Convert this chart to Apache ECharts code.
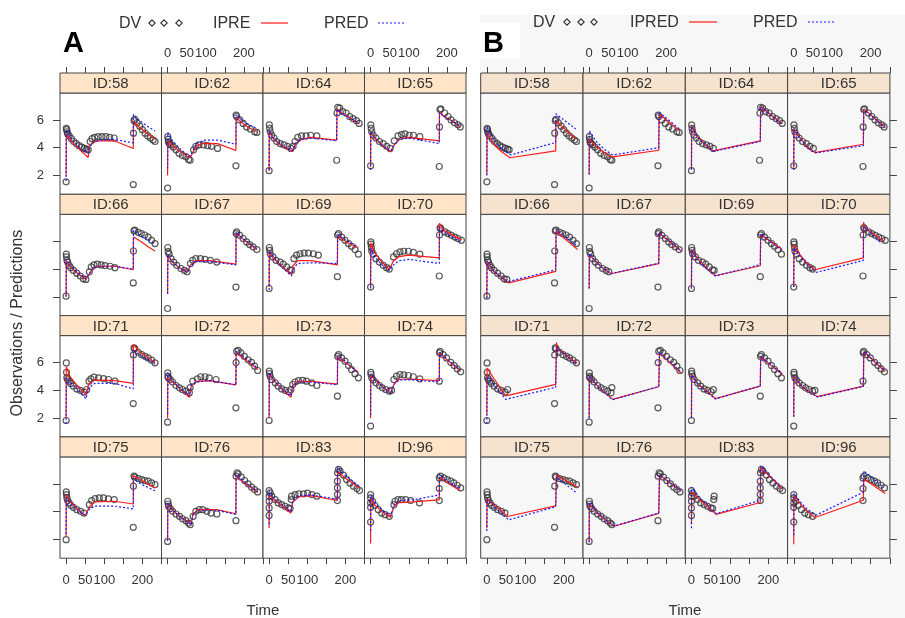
<!DOCTYPE html>
<html><head><meta charset="utf-8">
<script src="https://cdn.jsdelivr.net/npm/echarts@6/dist/echarts.min.js"></script>
<style>html,body{margin:0;padding:0;background:#fff}#c{width:905px;height:618px}</style>
</head><body><div id="c"></div>
<script>
// ---------------- DATA ----------------
const IDS = ['58','62','64','65','66','67','69','70','71','72','73','74','75','76','83','96'];
const X_TICKS = [0,50,100,150,200,250];
const X_LABELS = [0,50,100,200];
const Y_TICKS = [2,4,6];

// Observations (DV) : [time, value]
const dv58 = [[0,1.55],[0.5,5.4],[1.5,5.3],[2.5,5.15],[4,5.0],[8,4.85],[14,4.65],[20,4.45],[27,4.3],[34,4.15],[41,4.05],[48,3.95],[54,3.9],[58,3.85],[63,4.45],[68,4.65],[75,4.75],[84,4.8],[94,4.8],[104,4.8],[114,4.75],[126,4.7],[176,1.35],[176.5,5.05],[178,5.95],[180,6.05],[186,5.8],[193,5.55],[200,5.3],[207,5.05],[214,4.85],[221,4.7],[228,4.55],[233,4.45]];
const dv62 = [[0,1.1],[0.5,4.8],[1.5,4.6],[2.5,4.4],[5,4.3],[9,4.2],[15,4.05],[22,3.85],[30,3.6],[39,3.45],[48,3.35],[55,3.15],[59,3.1],[68,3.85],[74,4.1],[82,4.2],[94,4.2],[105,4.15],[115,4.1],[131,3.95],[179,2.7],[179.5,6.35],[181,6.25],[189,6.0],[198,5.75],[207,5.5],[217,5.35],[228,5.15],[234,5.1]];
const dv64 = [[0,2.35],[0.5,5.65],[1.5,5.4],[3,5.15],[7,4.9],[13,4.7],[20,4.45],[29,4.3],[39,4.2],[48,4.1],[57,3.95],[63,4.1],[68,4.45],[75,4.75],[85,4.85],[97,4.85],[109,4.9],[125,4.85],[177,3.1],[178,6.5],[180,6.9],[185,6.85],[193,6.6],[202,6.5],[211,6.25],[220,6.1],[229,5.95],[236,5.75]];
const dv65 = [[0,2.7],[0.5,5.65],[1.5,5.4],[3,5.15],[7,4.9],[14,4.7],[23,4.45],[33,4.3],[42,4.1],[51,3.95],[62,4.5],[72,4.85],[81,4.95],[90,5.0],[101,4.9],[112,4.9],[129,4.8],[180,2.65],[180.5,5.5],[182,6.75],[184,6.8],[194,6.5],[203,6.25],[211,6.0],[220,5.8],[229,5.65],[235,5.5]];
const dv66 = [[0,2.05],[0.5,5.07],[1,4.88],[2,4.63],[4,4.5],[8,4.27],[12,4.1],[19,3.9],[28,3.7],[37,3.5],[45,3.3],[52,3.25],[61,3.8],[66,4.15],[73,4.3],[82,4.35],[92,4.3],[102,4.25],[115,4.2],[128,4.1],[176,3.0],[176.5,5.3],[178,6.75],[180,6.8],[189,6.65],[197,6.55],[206,6.45],[215,6.3],[224,6.07],[233,5.83]];
const dv67 = [[0,1.16],[0.5,5.55],[1.5,5.25],[4,5.07],[9,4.75],[16,4.5],[24,4.27],[35,4.04],[44,3.9],[51,3.8],[60,4.4],[66,4.63],[74,4.75],[86,4.75],[98,4.7],[112,4.63],[129,4.5],[179,2.7],[179.5,6.55],[181,6.67],[189,6.43],[198,6.2],[207,5.95],[215,5.76],[224,5.6],[234,5.4]];
const dv69 = [[0,2.6],[0.5,5.55],[1.5,5.35],[3,5.1],[10,4.87],[18,4.63],[29,4.5],[37,4.35],[46,4.15],[55,3.95],[59,3.9],[65,4.75],[72,5.0],[81,5.1],[92,5.15],[103,5.15],[116,5.1],[129,5.0],[179,3.45],[179.5,6.45],[182,6.55],[190,6.3],[199,6.07],[208,5.83],[216,5.64],[225,5.4],[234,5.07]];
const dv70 = [[0,2.7],[0.5,5.95],[1,5.8],[2,5.55],[3,5.3],[7,5.07],[14,4.75],[23,4.5],[33,4.27],[42,4.1],[49,4.0],[60,4.87],[68,5.1],[77,5.23],[87,5.28],[99,5.28],[112,5.2],[129,5.07],[180,3.5],[180.5,6.45],[182,6.98],[184,6.9],[195,6.67],[203,6.55],[212,6.43],[221,6.3],[229,6.2],[238,6.07]];
const dv71 = [[0,1.83],[0.5,5.97],[1,5.3],[2,4.9],[4,4.78],[8,4.66],[12,4.5],[19,4.3],[28,4.1],[37,4.0],[47,3.87],[54,4.06],[60,4.66],[65,4.83],[73,4.95],[85,4.9],[98,4.85],[111,4.78],[128,4.66],[176,3.05],[176.5,6.55],[178,7.05],[180,7.0],[189,6.74],[198,6.57],[207,6.45],[215,6.33],[224,6.17],[233,5.98]];
const dv72 = [[0,1.71],[0.5,5.26],[1,5.0],[2,4.9],[7,4.78],[13,4.6],[22,4.35],[31,4.18],[39,4.06],[48,3.94],[57,3.82],[59,4.2],[66,4.66],[78,4.83],[87,4.98],[98,4.98],[109,4.9],[127,4.78],[179,2.74],[179.5,6.0],[181,6.8],[185,6.88],[192,6.7],[201,6.45],[211,6.2],[220,6.02],[228,5.74],[236,5.43]];
const dv73 = [[0,1.83],[0.5,5.38],[1,5.2],[3,5.0],[7,4.78],[16,4.54],[24,4.3],[33,4.1],[42,4.0],[51,3.9],[57,4.05],[62,4.42],[68,4.6],[77,4.7],[88,4.72],[98,4.66],[112,4.54],[125,4.35],[179,3.58],[179.5,6.45],[182,6.57],[190,6.33],[199,6.1],[208,5.78],[216,5.5],[225,5.2],[234,4.9]];
const dv74 = [[0,1.43],[0.5,5.3],[1,5.14],[3,4.9],[7,4.74],[14,4.54],[23,4.35],[31,4.18],[40,4.06],[49,3.94],[55,4.0],[61,4.78],[68,5.02],[77,5.14],[87,5.12],[99,5.07],[112,4.98],[129,4.83],[180,4.66],[180.5,6.7],[182,6.8],[190,6.57],[199,6.33],[210,6.02],[219,5.78],[227,5.55],[236,5.33]];
const dv75 = [[0,1.98],[0.5,5.42],[1,5.23],[2,4.99],[4,4.8],[8,4.63],[12,4.46],[19,4.31],[28,4.14],[38,4.02],[47,3.9],[61,4.5],[67,4.8],[76,4.94],[87,4.99],[98,4.99],[111,4.92],[126,4.87],[176,2.87],[176.5,5.83],[178,6.55],[180,6.48],[189,6.38],[198,6.31],[206,6.24],[215,6.19],[224,6.07],[233,5.95]];
const dv76 = [[0,1.86],[0.5,4.75],[1.5,4.55],[2.5,4.39],[7,4.22],[13,4.02],[22,3.83],[31,3.66],[39,3.49],[48,3.35],[55,3.18],[59,3.06],[67,3.66],[74,4.02],[83,4.14],[92,4.14],[103,4.02],[114,3.9],[129,3.83],[179,3.35],[179.5,6.55],[182,6.8],[185,6.72],[193,6.48],[202,6.24],[211,6.0],[220,5.76],[228,5.59],[236,5.42]];
const dv83 = [[0,3.73],[0,4.27],[0,4.75],[0,5.11],[0,5.52],[3,5.35],[7,5.11],[16,4.87],[24,4.63],[33,4.51],[42,4.39],[51,4.27],[55,4.22],[58,4.87],[59,5.11],[68,5.23],[78,5.28],[90,5.28],[101,5.33],[112,5.23],[125,5.11],[179,4.8],[179,5.23],[179,5.71],[179,6.19],[179.5,6.8],[182,7.04],[186,6.92],[195,6.63],[203,6.31],[212,6.07],[221,5.83],[230,5.66],[237,5.52]];
const dv96 = [[0,3.25],[0,4.31],[0,4.63],[0,4.99],[0,5.23],[5,4.75],[11,4.46],[20,4.14],[29,3.9],[38,3.78],[49,3.66],[61,4.5],[64,4.75],[72,4.87],[81,4.87],[92,4.87],[105,4.8],[128,4.63],[180,4.8],[180,5.66],[180,6.43],[183,6.55],[192,6.43],[201,6.31],[210,6.19],[218,6.07],[227,5.9],[236,5.71]];

// Panel A : individual (IPRE) and population (PRED) predictions
const ipA58 = [[0,2.0],[0.5,5.0],[5,4.8],[20,4.3],[40,3.75],[58,3.3],[60,4.1],[70,4.4],[85,4.5],[126,4.5],[176,3.95],[176.5,5.9],[186,5.6],[210,5.1],[233,4.65]];
const prA58 = [[0,1.6],[0.5,5.3],[5,5.0],[20,4.45],[40,3.9],[58,3.6],[60,4.0],[70,4.35],[90,4.55],[126,4.6],[176,4.35],[176.5,6.4],[186,6.1],[210,5.6],[233,5.2]];
const ipA62 = [[0,2.0],[0.5,4.5],[10,4.2],[30,3.8],[50,3.4],[60,3.3],[65,3.6],[75,4.1],[90,4.3],[131,4.3],[179,3.8],[179.5,6.2],[190,5.9],[210,5.5],[234,5.15]];
const prA62 = [[0,2.5],[0.5,5.1],[10,4.6],[30,4.0],[50,3.5],[60,3.4],[65,3.7],[75,4.3],[95,4.55],[131,4.55],[179,4.25],[179.5,6.4],[190,6.1],[210,5.7],[234,5.4]];
const ipA64 = [[0,2.3],[0.5,5.2],[10,4.7],[30,4.2],[50,3.9],[62,3.75],[70,4.3],[85,4.6],[110,4.75],[177,4.55],[178,6.8],[190,6.5],[215,6.1],[236,5.7]];
const prA64 = [[0,2.4],[0.5,5.3],[10,4.75],[30,4.25],[50,3.9],[62,3.8],[70,4.35],[85,4.6],[110,4.7],[177,4.5],[178,6.75],[190,6.5],[215,6.1],[236,5.75]];
const ipA65 = [[0,2.6],[0.5,5.1],[10,4.7],[30,4.2],[52,3.7],[62,4.2],[75,4.6],[100,4.75],[180,4.5],[180.5,6.6],[190,6.3],[215,5.9],[235,5.5]];
const prA65 = [[0,2.4],[0.5,5.2],[10,4.75],[30,4.2],[52,3.75],[62,4.2],[75,4.6],[100,4.7],[180,4.3],[180.5,6.55],[190,6.3],[215,5.9],[235,5.55]];
const ipA66 = [[0,2.0],[0.5,4.6],[10,4.2],[30,3.7],[52,3.25],[60,3.6],[70,4.0],[85,4.2],[128,4.2],[176,3.95],[176.5,6.3],[195,6.0],[215,5.6],[233,5.3]];
const prA66 = [[0,2.0],[0.5,4.7],[10,4.25],[30,3.75],[52,3.3],[60,3.65],[70,4.05],[85,4.2],[128,4.2],[176,4.0],[176.5,6.8],[200,6.3],[233,5.8]];
const ipA67 = [[0,2.2],[0.5,5.0],[10,4.6],[30,4.1],[52,3.8],[60,4.3],[75,4.6],[110,4.6],[179,4.35],[179.5,6.6],[200,6.1],[234,5.4]];
const prA67 = [[0,2.2],[0.5,5.05],[10,4.6],[30,4.1],[52,3.75],[60,4.25],[75,4.55],[110,4.55],[179,4.3],[179.5,6.65],[200,6.15],[234,5.45]];
const ipA69 = [[0,2.7],[0.5,5.3],[10,4.8],[30,4.3],[59,3.6],[62,4.2],[75,4.6],[110,4.6],[179,4.3],[179.5,6.4],[200,6.0],[234,5.5]];
const prA69 = [[0,2.5],[0.5,5.3],[30,4.2],[59,3.5],[62,4.0],[75,4.4],[110,4.45],[179,4.4],[179.5,6.5],[200,6.1],[234,5.6]];
const ipA70 = [[0,2.7],[0.5,5.9],[10,5.2],[30,4.5],[49,3.95],[60,4.6],[75,4.9],[100,5.0],[180,4.8],[180.5,7.3],[190,6.8],[238,6.1]];
const prA70 = [[0,2.6],[0.5,5.5],[10,4.9],[30,4.3],[49,3.9],[60,4.3],[75,4.6],[100,4.7],[180,4.4],[180.5,7.0],[190,6.7],[238,5.9]];
const ipA71 = [[0,2.0],[0.5,5.7],[10,5.0],[30,4.3],[52,3.7],[60,4.5],[75,4.75],[128,4.7],[176,4.5],[176.5,7.3],[195,6.7],[233,6.0]];
const prA71 = [[0,1.6],[0.5,4.9],[10,4.6],[30,4.1],[52,3.4],[60,4.2],[75,4.5],[128,4.5],[176,4.1],[176.5,6.9],[195,6.5],[233,5.9]];
const ipA72 = [[0,2.0],[0.5,5.0],[10,4.7],[30,4.2],[57,3.5],[62,4.3],[75,4.65],[110,4.7],[179,4.4],[179.5,6.7],[200,6.3],[236,5.5]];
const prA72 = [[0,2.3],[0.5,5.3],[10,4.8],[30,4.2],[57,3.6],[62,4.4],[75,4.6],[110,4.7],[179,4.4],[179.5,6.8],[200,6.4],[236,5.6]];
const ipA73 = [[0,2.0],[0.5,5.2],[10,4.8],[30,4.2],[57,3.5],[62,4.35],[75,4.65],[110,4.65],[179,4.45],[179.5,6.4],[200,6.0],[234,5.3]];
const prA73 = [[0,2.2],[0.5,5.3],[10,4.8],[30,4.2],[57,3.6],[62,4.3],[75,4.6],[110,4.6],[179,4.4],[179.5,6.5],[200,6.1],[234,5.2]];
const ipA74 = [[0,2.0],[0.5,5.1],[10,4.8],[30,4.3],[52,3.8],[62,4.5],[75,4.8],[110,4.8],[180,4.7],[180.5,6.7],[200,6.2],[236,5.4]];
const prA74 = [[0,2.2],[0.5,5.2],[10,4.8],[30,4.3],[52,3.75],[62,4.45],[75,4.75],[110,4.75],[180,4.6],[180.5,6.75],[200,6.25],[236,5.45]];
const ipA75 = [[0,2.2],[0.5,5.2],[10,4.7],[30,4.2],[50,3.7],[62,4.4],[75,4.7],[126,4.75],[176,4.55],[176.5,6.6],[195,6.3],[233,5.7]];
const prA75 = [[0,2.4],[0.5,5.0],[10,4.6],[30,4.1],[50,3.75],[62,4.2],[75,4.4],[126,4.4],[176,4.2],[176.5,6.4],[195,6.0],[233,5.5]];
const ipA76 = [[0,1.9],[0.5,4.6],[10,4.2],[30,3.7],[62,3.1],[66,3.8],[80,4.15],[129,4.15],[179,3.85],[179.5,6.6],[200,6.1],[236,5.4]];
const prA76 = [[0,1.9],[0.5,4.65],[10,4.2],[30,3.7],[62,3.05],[66,3.75],[80,4.1],[129,4.1],[179,3.8],[179.5,6.65],[200,6.15],[236,5.45]];
const ipA83 = [[0,2.8],[0.5,5.2],[10,4.9],[30,4.5],[57,3.9],[62,4.7],[80,5.1],[110,5.15],[179,4.8],[179.5,6.9],[200,6.4],[237,5.7]];
const prA83 = [[0,3.1],[0.5,5.5],[10,5.0],[30,4.6],[57,4.0],[62,4.8],[80,5.15],[110,5.2],[179,4.9],[179.5,7.2],[200,6.6],[237,5.8]];
const ipA96 = [[0,1.7],[0.5,5.0],[10,4.5],[30,4.0],[52,3.6],[62,4.4],[75,4.65],[110,4.7],[180,4.85],[180.5,6.5],[200,6.1],[236,5.5]];
const prA96 = [[0,2.6],[0.5,5.2],[10,4.7],[30,4.1],[52,3.7],[62,4.5],[75,4.8],[110,4.85],[180,5.2],[180.5,6.7],[200,6.2],[236,5.65]];

// Panel B : IPRED and PRED
const ipB58 = [[0,2.07],[0.5,5.1],[18,4.25],[36,3.77],[60,3.28],[179,3.77],[179.5,6.0],[184,5.83],[231,4.65]];
const prB58 = [[0,2.0],[0.5,5.47],[18,4.62],[36,4.0],[62,3.48],[179,4.38],[179.5,6.44],[231,5.35]];
const ipB62 = [[0,2.07],[0.5,4.62],[17,4.13],[39,3.65],[57,3.33],[181,3.82],[182,6.44],[235,5.22]];
const prB62 = [[0,2.07],[0.5,5.22],[17,4.5],[39,3.9],[61,3.48],[181,4.0],[182,6.56],[235,5.35]];
const ipB64 = [[0,2.44],[0.5,5.59],[14,4.86],[31,4.38],[57,3.77],[179,4.5],[180,6.97],[236,5.71]];
const prB64 = [[0,2.44],[0.5,5.55],[14,4.83],[31,4.35],[57,3.74],[179,4.45],[180,6.95],[236,5.68]];
const ipB65 = [[0,2.56],[0.5,5.35],[16,4.74],[33,4.13],[55,3.65],[181,4.25],[182,6.8],[238,5.47]];
const prB65 = [[0,2.4],[0.5,5.3],[16,4.7],[33,4.1],[55,3.62],[181,4.15],[182,6.75],[238,5.45]];
const ipB66 = [[0,1.9],[0.5,4.55],[18,3.83],[40,3.35],[57,3.0],[179,3.83],[180,6.72],[236,5.4]];
const prB66 = [[0,1.9],[0.5,4.6],[18,3.85],[40,3.35],[57,3.1],[179,3.95],[180,6.84],[236,5.64]];
const ipB67 = [[0,2.6],[0.5,5.04],[17,4.55],[35,4.07],[57,3.66],[181,4.39],[182,6.6],[240,5.28]];
const prB67 = [[0,2.6],[0.5,5.1],[17,4.55],[35,4.07],[57,3.68],[181,4.42],[182,6.62],[240,5.3]];
const ipB69 = [[0,2.6],[0.5,5.4],[18,4.67],[40,4.07],[62,3.52],[179,4.24],[180,6.48],[236,5.4]];
const prB69 = [[0,2.6],[0.5,5.35],[18,4.6],[40,4.0],[62,3.5],[179,4.32],[180,6.55],[236,5.3]];
const ipB70 = [[0,2.7],[0.5,5.76],[16,5.04],[33,4.43],[55,3.95],[181,4.8],[181.5,7.37],[185,6.96],[234,6.0]];
const prB70 = [[0,2.7],[0.5,5.52],[20,4.8],[37,4.24],[59,3.76],[181,4.63],[181.5,7.08],[229,5.83]];
const ipB71 = [[0,2.2],[0.5,5.6],[18,4.87],[49,3.6],[179,4.43],[181,7.45],[184,6.95],[235,5.95]];
const prB71 = [[0,1.6],[0.5,5.0],[49,3.35],[179,4.22],[181,7.1],[235,5.83]];
const ipB72 = [[0,2.0],[0.5,5.0],[22,4.3],[39,3.87],[61,3.35],[181,4.26],[183,6.7],[239,5.25]];
const prB72 = [[0,2.0],[0.5,5.05],[22,4.3],[39,3.85],[61,3.33],[181,4.28],[183,6.75],[239,5.3]];
const ipB73 = [[0,2.0],[0.5,5.13],[18,4.42],[40,3.95],[62,3.41],[179,4.3],[180,6.42],[236,5.13]];
const prB73 = [[0,2.0],[0.5,5.1],[18,4.4],[40,3.9],[62,3.38],[179,4.32],[180,6.45],[236,5.2]];
const ipB74 = [[0,2.1],[0.5,5.0],[20,4.3],[37,3.95],[61,3.55],[181,4.3],[182,6.78],[238,5.36]];
const prB74 = [[0,2.1],[0.5,5.05],[20,4.32],[37,3.95],[61,3.52],[181,4.28],[182,6.8],[238,5.4]];
const ipB75 = [[0,2.8],[0.5,4.94],[18,4.47],[36,4.12],[53,3.65],[179,4.42],[181,6.64],[236,5.76]];
const prB75 = [[0,2.6],[0.5,4.94],[18,4.35],[57,3.41],[179,4.35],[181,6.5],[231,5.4]];
const ipB76 = [[0,1.8],[0.5,4.6],[22,3.9],[43,3.4],[65,2.95],[181,3.88],[183,6.64],[239,5.46]];
const prB76 = [[0,1.8],[0.5,4.65],[22,3.92],[43,3.42],[65,2.97],[181,3.9],[183,6.66],[239,5.5]];
const ipB83 = [[0,3.1],[0.5,5.41],[23,4.82],[44,4.35],[64,3.8],[179,4.66],[180,7.18],[236,5.65]];
const prB83 = [[0,2.8],[0.5,5.76],[23,4.95],[44,4.45],[64,3.85],[179,4.82],[180,7.3],[231,5.76]];
const ipB96 = [[0,1.65],[0.5,5.18],[20,4.47],[37,4.0],[55,3.58],[181,4.82],[182,6.35],[238,5.3]];
const prB96 = [[0,2.3],[0.5,5.3],[20,4.6],[37,4.12],[59,3.76],[181,5.4],[182,6.94],[229,5.83]];

const DV  = [dv58,dv62,dv64,dv65,dv66,dv67,dv69,dv70,dv71,dv72,dv73,dv74,dv75,dv76,dv83,dv96];
const IPA = [ipA58,ipA62,ipA64,ipA65,ipA66,ipA67,ipA69,ipA70,ipA71,ipA72,ipA73,ipA74,ipA75,ipA76,ipA83,ipA96];
const PRA = [prA58,prA62,prA64,prA65,prA66,prA67,prA69,prA70,prA71,prA72,prA73,prA74,prA75,prA76,prA83,prA96];
const IPB = [ipB58,ipB62,ipB64,ipB65,ipB66,ipB67,ipB69,ipB70,ipB71,ipB72,ipB73,ipB74,ipB75,ipB76,ipB83,ipB96];
const PRB = [prB58,prB62,prB64,prB65,prB66,prB67,prB69,prB70,prB71,prB72,prB73,prB74,prB75,prB76,prB83,prB96];

// ---------------- LAYOUT / STYLE ----------------
const FONT = '"Liberation Sans", Arial, sans-serif';
const X_MIN = -16, X_MAX = 250, Y_MIN = 0.65, Y_MAX = 7.94;
const TOP0 = 73, STRIP_H = 20, PLOT_H = 101.3, PITCH = 121.3;
const FIGS = [
  {left:60,    w:101.5, panelBg:'#ffffff', strip:'#ffe4c8', yPos:'left',  yCol:0, ip:IPA, pr:PRA, ipName:'IPRE',  keep: t => true},
  {left:480.7, w:102.3, panelBg:'#f7f7f7', strip:'#f6e3cf', yPos:'right', yCol:3, ip:IPB, pr:PRB, ipName:'IPRED', keep: t => t < 60 || t > 170}
];
const RED = '#ff1a1a', BLUE = '#1a1aff', INK = '#333';

const grids = [], xAxes = [], yAxes = [], series = [], graphics = [];

// background of figure B and white label box
graphics.push({type:'rect', z:-10, shape:{x:480, y:15, width:425, height:603}, style:{fill:'#f7f7f7'}});
graphics.push({type:'rect', z:-9, shape:{x:480, y:23, width:40, height:35}, style:{fill:'#ffffff'}});

function txt(x, y, text, font, align, extra, fill) {
  return Object.assign({type:'text', z:10, x:x, y:y, style:{text:text, font:font, fill:fill || INK,
    align:align, verticalAlign:'middle', textAlign:align, textVerticalAlign:'middle'}}, extra || {});
}

FIGS.forEach((F, f) => {
  for (let r = 0; r < 4; r++) {
    for (let c = 0; c < 4; c++) {
      const k = r * 4 + c;
      const gi = grids.length;
      const left = F.left + c * F.w;
      const top = TOP0 + r * PITCH + STRIP_H;
      grids.push({left:left, top:top, width:F.w, height:PLOT_H, show:true,
        backgroundColor:F.panelBg, borderColor:'#444', borderWidth:1,
        containLabel:false, outerBoundsMode:'none'});
      const xTicks = (r === 0 || r === 3);
      const xLab = (r === 0 && c % 2 === 1) || (r === 3 && c % 2 === 0);
      xAxes.push({gridIndex:gi, type:'value', min:X_MIN, max:X_MAX,
        position: r === 0 ? 'top' : 'bottom', offset: r === 0 ? STRIP_H : 0,
        axisLine:{show:false, onZero:false},
        axisTick:{show:xTicks, customValues:X_TICKS, length:6, lineStyle:{color:'#444', width:1}},
        axisLabel:{show:xLab, customValues:X_LABELS, fontSize:13, color:INK, fontFamily:FONT, margin: r === 0 ? 13 : 16},
        splitLine:{show:false}});
      const yEdge = (c === F.yCol);
      yAxes.push({gridIndex:gi, type:'value', min:Y_MIN, max:Y_MAX, position:F.yPos,
        axisLine:{show:false, onZero:false},
        axisTick:{show:yEdge, customValues:Y_TICKS, length:7, lineStyle:{color:'#444', width:1}},
        axisLabel:{show: yEdge && f === 0 && (r === 0 || r === 2), customValues:Y_TICKS, fontSize:13, color:INK, fontFamily:FONT, margin:16},
        splitLine:{show:false}});
      series.push({type:'scatter', name:'DV', xAxisIndex:gi, yAxisIndex:gi, silent:true,
        symbol:'circle', symbolSize:6, z:2,
        itemStyle:{color:'rgba(255,255,255,0)', borderColor:'#333', borderWidth:1.2},
        data: DV[k].filter(p => F.keep(p[0]))});
      series.push({type:'line', name:F.ipName, xAxisIndex:gi, yAxisIndex:gi, silent:true,
        symbol:'none', z:3, lineStyle:{color:RED, width:1.2}, data:F.ip[k]});
      series.push({type:'line', name:'PRED', xAxisIndex:gi, yAxisIndex:gi, silent:true,
        symbol:'none', z:4, lineStyle:{color:BLUE, width:1.2, type:[2,2]}, data:F.pr[k]});
      // strip
      graphics.push({type:'rect', z:5, shape:{x:left, y:top - STRIP_H, width:F.w, height:STRIP_H},
        style:{fill:F.strip, stroke:'#444', lineWidth:1}});
      graphics.push(txt(left + F.w / 2, top - STRIP_H / 2 + 1, 'ID:' + IDS[k], '15px ' + FONT, 'center'));
    }
  }
});

// panel letters
graphics.push(txt(63, 44, 'A', 'bold 29px ' + FONT, 'left', {}, '#000'));
graphics.push(txt(483, 44, 'B', 'bold 29px ' + FONT, 'left', {}, '#000'));

// axis titles
graphics.push(txt(17.5, 323, 'Observations / Predictions', '16px ' + FONT, 'center', {rotation: Math.PI / 2}));
graphics.push(txt(263, 611, 'Time', '15px ' + FONT, 'center'));
graphics.push(txt(685, 611, 'Time', '15px ' + FONT, 'center'));

// legends
function diamond(cx, cy) {
  return {type:'polygon', z:10, shape:{points:[[cx, cy - 3.2],[cx + 3.2, cy],[cx, cy + 3.2],[cx - 3.2, cy]]},
    style:{fill:'rgba(0,0,0,0)', stroke:'#333', lineWidth:1.1}};
}
function seg(x1, x2, y, color, dash) {
  return {type:'line', z:10, shape:{x1:x1, y1:y, x2:x2, y2:y}, style:{stroke:color, lineWidth:1.2, lineDash:dash || null}};
}
// legend A
graphics.push(txt(119, 24, 'DV', '16px ' + FONT, 'left'));
[152, 164, 179].forEach(x => graphics.push(diamond(x, 23)));
graphics.push(txt(213, 24, 'IPRE', '16px ' + FONT, 'left'));
graphics.push(seg(261, 288, 23, RED));
graphics.push(txt(324, 24, 'PRED', '16px ' + FONT, 'left'));
graphics.push(seg(378, 405, 23, BLUE, [2, 2]));
// legend B
graphics.push(txt(533, 23, 'DV', '16px ' + FONT, 'left'));
[567, 581, 594].forEach(x => graphics.push(diamond(x, 22)));
graphics.push(txt(630, 23, 'IPRED', '16px ' + FONT, 'left'));
graphics.push(seg(689, 717, 22, RED));
graphics.push(txt(753, 23, 'PRED', '16px ' + FONT, 'left'));
graphics.push(seg(808, 835, 22, BLUE, [2, 2]));

const chart = echarts.init(document.getElementById('c'), null, {renderer:'canvas'});
chart.setOption({
  animation:false,
  backgroundColor:'#ffffff',
  textStyle:{fontFamily:FONT},
  grid:grids, xAxis:xAxes, yAxis:yAxes, series:series,
  graphic:{elements:graphics}
});
</script>
</body></html>
